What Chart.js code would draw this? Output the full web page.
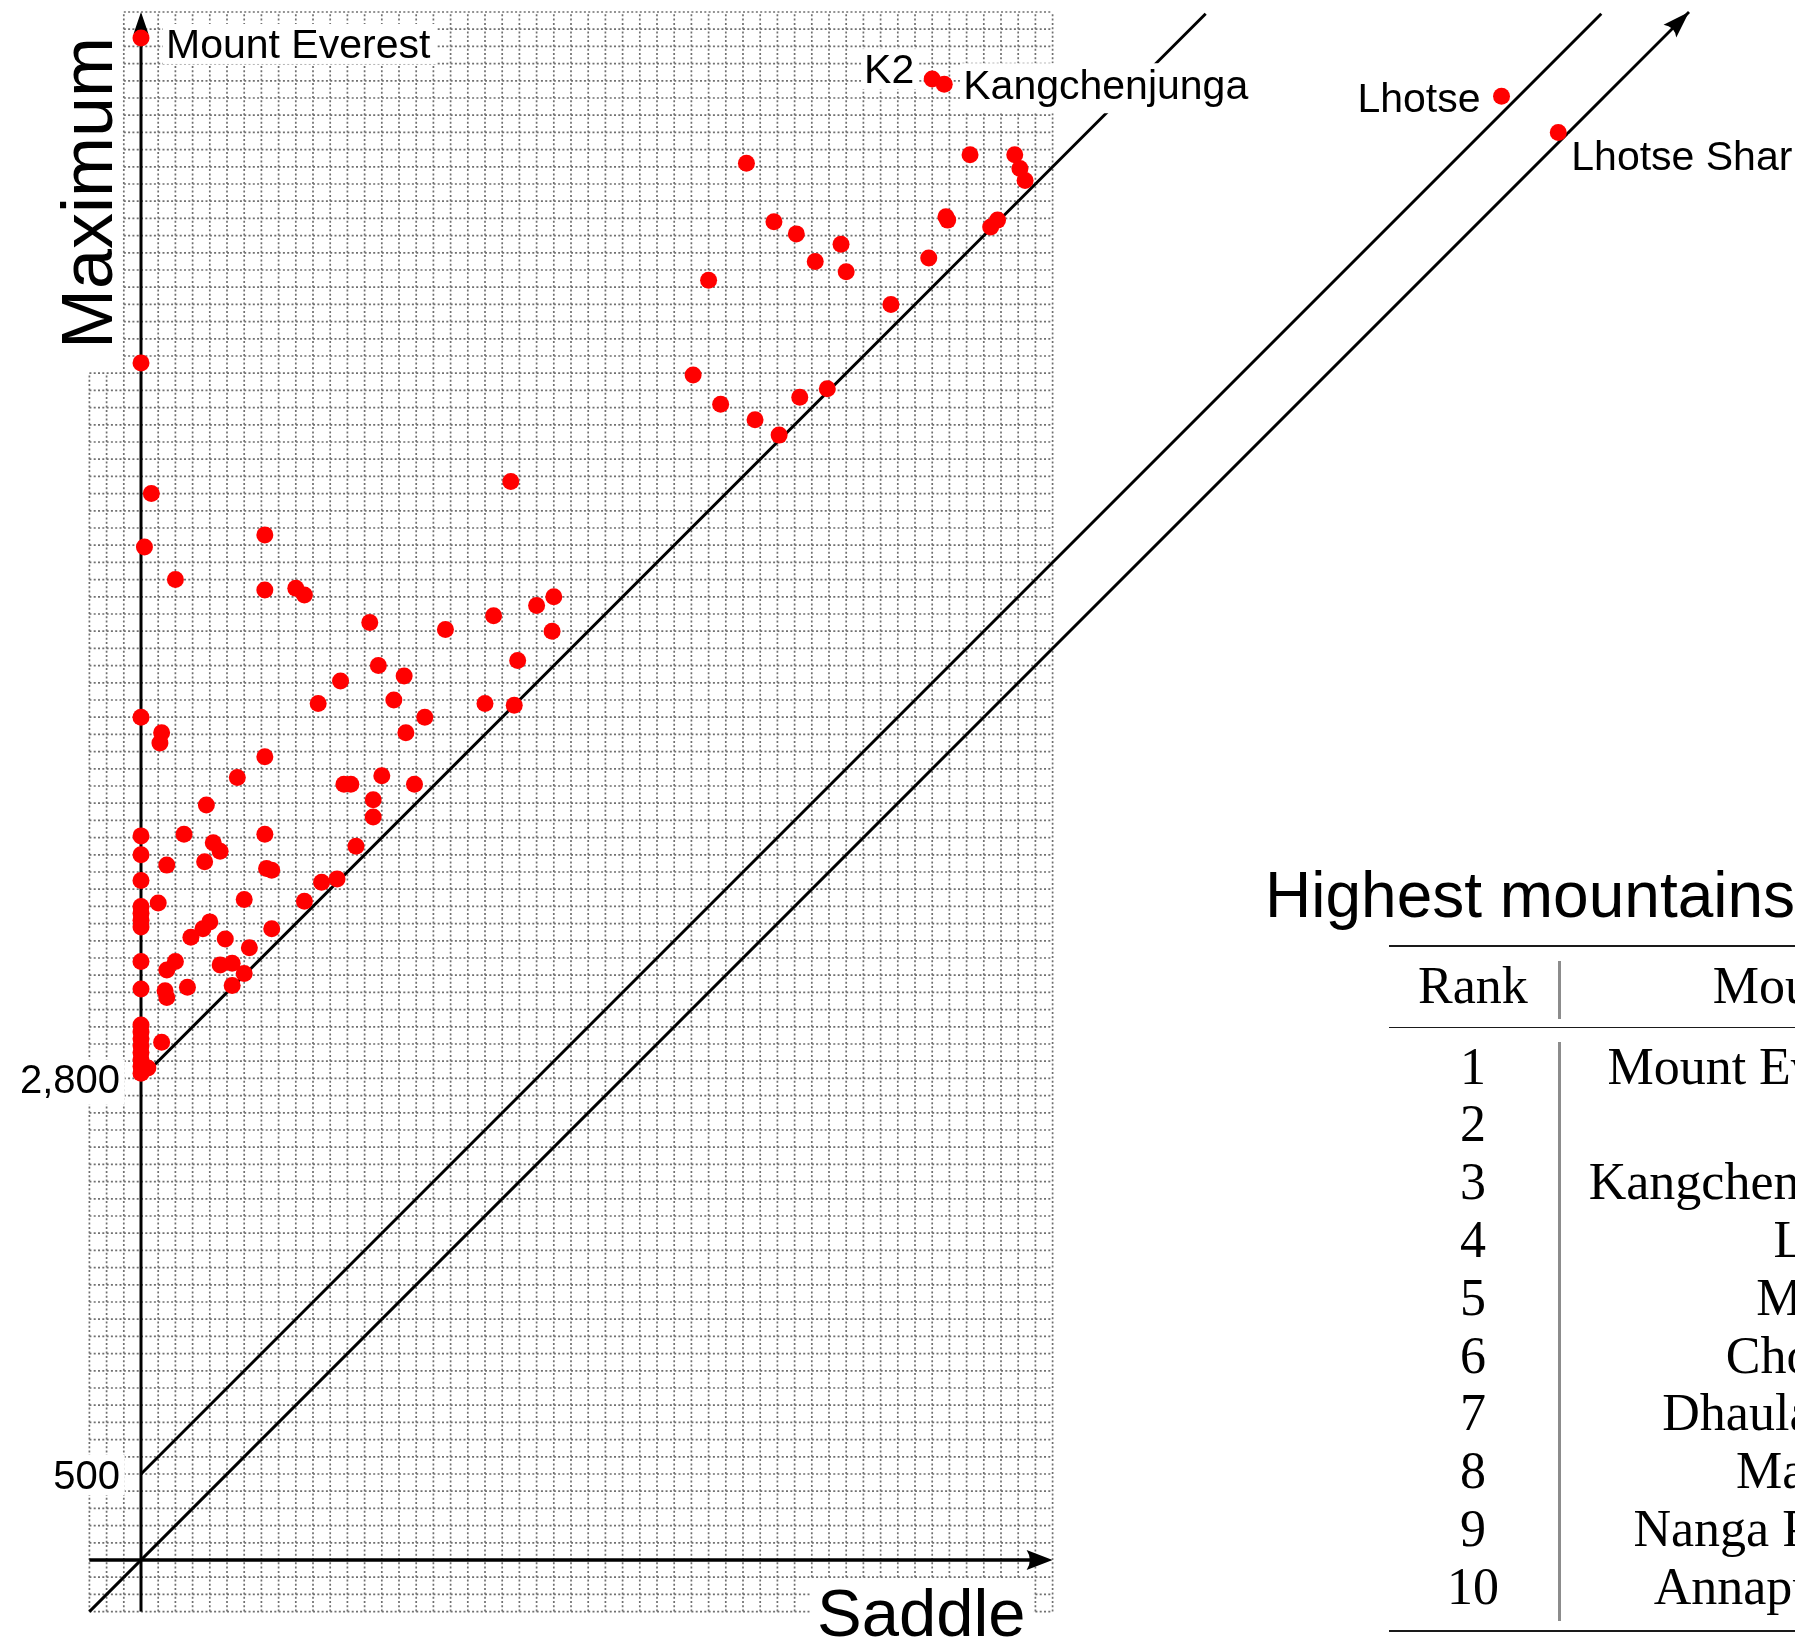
<!DOCTYPE html>
<html>
<head>
<meta charset="utf-8">
<title>Saddle vs. maximum elevation</title>
<script src="https://cdn.jsdelivr.net/npm/chart.js@4.4.1/dist/chart.umd.min.js"></script>
<style>
  html, body { margin: 0; padding: 0; background: #fff; overflow: hidden; }
  #wrap { position: relative; width: 1795px; height: 1641px; overflow: hidden; background: #fff; }
  #chart { position: absolute; left: 0; top: 0; }
  .txt { position: absolute; white-space: nowrap; color: #000; }
  .title { font-family: "Liberation Sans", Arial, sans-serif; font-size: 64px; line-height: 64px; }
  .cell { font-family: "Liberation Serif", "Times New Roman", serif; font-size: 52px; line-height: 52px; }
  .rule { position: absolute; background: #1a1a1a; }
  .vrule { position: absolute; background: #8c8c8c; width: 2.5px; }
</style>
</head>
<body>
<div id="wrap">
  <canvas id="chart" width="1795" height="1641"></canvas>
  <div id="table"></div>
</div>
<script>
// Named peaks come first in the two elevation lists below.
const peakNames = ['Mount Everest', 'K2', 'Kangchenjunga', 'Lhotse', 'Lhotse Shar'];

// Saddle (key col) elevation of each peak, metres.
const saddleHeights = [
  0, 4600, 4670, 7910, 8240,
  3520, 4820, 5080, 5110, 5140, 3680, 3810, 4070, 3920, 4100,
  4680, 4690, 4980, 4940, 4580, 3300, 4360, 3210, 3370, 3570,
  3710, 3830, 3990, 0, 60, 20, 200, 720, 720, 900,
  950, 2150, 1330, 1770, 2050, 2300, 2400, 2390, 2190, 1380,
  1530, 1160, 1030, 1470, 2000, 2170, 1650, 0, 120, 110,
  1540, 720, 560, 1400, 1590, 1180, 1220, 1350, 1350, 380,
  0, 250, 420, 460, 720, 1250, 0, 150, 370, 730,
  760, 1050, 1140, 0, 950, 100, 600, 0, 0, 0,
  0, 400, 360, 290, 760, 490, 630, 0, 200, 150,
  460, 530, 600, 530, 270, 0, 140, 150, 0, 0,
  0, 0, 0, 0, 0, 0, 120, 40
];

// Summit (maximum) elevation of each peak, metres.
const summitHeights = [
  8849, 8610, 8580, 8510, 8300,
  8120, 8170, 8170, 8090, 8020, 7780, 7710, 7650, 7550, 7490,
  7810, 7790, 7790, 7750, 7570, 7440, 7300, 6890, 6720, 6630,
  6540, 6760, 6810, 6960, 6200, 5890, 5700, 5960, 5640, 5650,
  5610, 6270, 5450, 5410, 5490, 5550, 5600, 5400, 5230, 5200,
  5140, 5110, 4980, 5000, 4980, 4970, 4900, 4900, 4810, 4750,
  4810, 4670, 4550, 4560, 4510, 4510, 4510, 4420, 4320, 4390,
  4210, 4220, 4170, 4120, 4220, 4150, 4100, 4040, 4060, 4020,
  4010, 3940, 3960, 3950, 3830, 3820, 3840, 3800, 3760, 3720,
  3680, 3710, 3670, 3620, 3670, 3610, 3560, 3480, 3480, 3430,
  3460, 3470, 3410, 3340, 3330, 3320, 3310, 3270, 3110, 3070,
  3030, 2990, 2950, 2910, 2870, 2830, 3010, 2860
];

// Prominence reference lines: summit = saddle + offset.
const prominenceOffsets = [2800, 500, 0];

// Labelled values on the vertical axis.
const yTickValues = [2800, 500];
const yTickLabels = ['2,800', '500'];

// Table of the ten highest mountains.
const tableRanks = [1, 2, 3, 4, 5, 6, 7, 8, 9, 10];
const tableNames = ['Mount Everest', 'K2', 'Kangchenjunga', 'Lhotse', 'Makalu',
                    'Cho Oyu', 'Dhaulagiri I', 'Manaslu', 'Nanga Parbat', 'Annapurna I'];

// ---------------------------------------------------------------------------

const peakPoints = saddleHeights.map((s, i) => ({ x: s, y: summitHeights[i] }));

const GRID_LO = -300, GRID_X_HI = 5300, GRID_Y_HI = 9000, LINE_TOP = 8990;

function guideData(offset) {
  if (offset === 0) return [{ x: GRID_LO, y: GRID_LO }, { x: GRID_Y_HI, y: GRID_Y_HI }];
  return [{ x: 0, y: offset }, { x: LINE_TOP - offset, y: LINE_TOP }];
}

const guideSets = prominenceOffsets.map(p => ({
  data: guideData(p),
  showLine: true,
  borderColor: '#000',
  borderWidth: 2.9,
  pointRadius: 0,
  pointHoverRadius: 0,
  fill: false
}));

function arrowHead(ctx, tx, ty, angle, len, half) {
  const c = Math.cos(angle), s = Math.sin(angle);
  const bx = tx - len * c, by = ty - len * s;
  ctx.beginPath();
  ctx.moveTo(tx, ty);
  ctx.lineTo(bx - half * s, by + half * c);
  ctx.quadraticCurveTo(tx - 0.75 * len * c, ty - 0.75 * len * s, bx + half * s, by - half * c);
  ctx.closePath();
  ctx.fill();
}

function seg(ctx, x1, y1, x2, y2) {
  ctx.beginPath();
  ctx.moveTo(x1, y1);
  ctx.lineTo(x2, y2);
  ctx.stroke();
}

function boxedText(ctx, text, x, y, align, font, pad) {
  ctx.font = font;
  ctx.textAlign = align;
  ctx.textBaseline = 'alphabetic';
  const m = ctx.measureText(text);
  const left = x - m.actualBoundingBoxLeft, right = x + m.actualBoundingBoxRight;
  const top = y - m.actualBoundingBoxAscent, bottom = y + m.actualBoundingBoxDescent;
  ctx.fillStyle = '#fff';
  ctx.fillRect(left - pad, top - pad, right - left + 2 * pad, bottom - top + 2 * pad);
  ctx.fillStyle = '#000';
  ctx.fillText(text, x, y);
}

// Where each peak name sits relative to its dot.
const labelPlacement = {
  'Mount Everest': { align: 'left',  dx: 25,  dy: 20 },
  'K2':            { align: 'right', dx: -18, dy: 4 },
  'Kangchenjunga': { align: 'left',  dx: 19,  dy: 15 },
  'Lhotse':        { align: 'right', dx: -21, dy: 16 },
  'Lhotse Shar':   { align: 'left',  dx: 13,  dy: 38 }
};

const backdrop = {
  id: 'backdrop',
  beforeDatasetsDraw(chart) {
    const ctx = chart.ctx;
    const X = v => chart.scales.x.getPixelForValue(v);
    const Y = v => chart.scales.y.getPixelForValue(v);
    ctx.save();

    // dotted grid, one line every 100 m
    ctx.strokeStyle = '#707070';
    ctx.lineWidth = 1.7;
    ctx.setLineDash([2, 2.3]);
    for (let s = GRID_LO; s <= GRID_X_HI; s += 100) {
      const top = s < -100 ? Y(6900) : Y(GRID_Y_HI);
      seg(ctx, X(s), Y(GRID_LO), X(s), top);
    }
    for (let m = GRID_LO; m <= GRID_Y_HI; m += 100) {
      const left = m > 6900 ? X(-100) : X(GRID_LO);
      seg(ctx, left, Y(m), X(GRID_X_HI), Y(m));
    }
    ctx.setLineDash([]);

    // vertical tick labels
    yTickValues.forEach((v, i) => {
      boxedText(ctx, yTickLabels[i], X(0) - 21, Y(v) + 15, 'right', '40px "Liberation Sans"', 6);
    });

    // axes with arrow heads
    ctx.strokeStyle = '#000';
    ctx.fillStyle = '#000';
    ctx.lineWidth = 3;
    seg(ctx, X(0), Y(GRID_LO), X(0), Y(GRID_Y_HI) + 14);
    arrowHead(ctx, X(0), Y(GRID_Y_HI), -Math.PI / 2, 22, 7.5);
    ctx.lineWidth = 3.6;
    seg(ctx, X(GRID_LO), Y(0), X(GRID_X_HI) - 16, Y(0));
    arrowHead(ctx, X(GRID_X_HI), Y(0), 0, 26, 10);

    // axis titles
    ctx.fillStyle = '#000';
    ctx.font = '72px "Liberation Sans"';
    ctx.textAlign = 'left';
    ctx.textBaseline = 'alphabetic';
    ctx.save();
    ctx.translate(X(0) - 29, 349);
    ctx.rotate(-Math.PI / 2);
    ctx.fillText('Maximum', 0, 0);
    ctx.restore();
    boxedText(ctx, 'Saddle', X(GRID_X_HI) - 27, Y(0) + 76, 'right', '67px "Liberation Sans"', 10);

    ctx.restore();
  },
  beforeDatasetDraw(chart, args) {
    const ctx = chart.ctx;
    const X = v => chart.scales.x.getPixelForValue(v);
    const Y = v => chart.scales.y.getPixelForValue(v);
    if (args.index === 0) {
      ctx.save();
      // arrow head on the zero-prominence line
      ctx.fillStyle = '#000';
      arrowHead(ctx, X(GRID_Y_HI), Y(GRID_Y_HI), -Math.PI / 4, 27, 9);
      // peak names on white plates
      peakNames.forEach((name, i) => {
        const p = labelPlacement[name];
        boxedText(ctx, name, X(saddleHeights[i]) + p.dx, Y(summitHeights[i]) + p.dy,
                  p.align, '41px "Liberation Sans"', 6);
      });
      ctx.restore();
    }
  }
};

const pxPerMetre = 0.172;
const originX = 141, originY = 1560;
const W = 1795, H = 1641;

new Chart(document.getElementById('chart'), {
  type: 'scatter',
  data: {
    datasets: [
      {
        data: peakPoints,
        backgroundColor: '#ff0000',
        borderWidth: 0,
        pointRadius: 8.5,
        pointHoverRadius: 8.5
      },
      ...guideSets
    ]
  },
  options: {
    responsive: false,
    animation: false,
    events: [],
    layout: { padding: 0, autoPadding: false },
    plugins: { legend: { display: false }, tooltip: { enabled: false } },
    scales: {
      x: {
        type: 'linear',
        display: false,
        min: -originX / pxPerMetre,
        max: (W - originX) / pxPerMetre
      },
      y: {
        type: 'linear',
        display: false,
        min: -(H - originY) / pxPerMetre,
        max: originY / pxPerMetre
      }
    }
  },
  plugins: [backdrop]
});

// ---- table of the highest mountains ----
const table = document.getElementById('table');
function place(el, css) { Object.assign(el.style, css); table.appendChild(el); return el; }
function text(str, cls, css) {
  const d = document.createElement('div');
  d.className = 'txt ' + cls;
  d.textContent = str;
  return place(d, css);
}
function rule(cls, css) {
  const d = document.createElement('div');
  d.className = cls;
  return place(d, css);
}

text('Highest mountains', 'title', { left: '1265px', top: '863px' });

rule('rule', { left: '1389px', top: '945px', width: '600px', height: '2px' });
rule('rule', { left: '1389px', top: '1027px', width: '600px', height: '1.4px' });
rule('rule', { left: '1389px', top: '1630px', width: '600px', height: '2px' });
rule('vrule', { left: '1558px', top: '961px', height: '58px' });
rule('vrule', { left: '1558px', top: '1042px', height: '579px' });

const SERIF_BASE = 43.5, ROW0 = 1084, ROW_STEP = 57.8;
text('Rank', 'cell', { left: '1373px', width: '200px', textAlign: 'center', top: (1003 - SERIF_BASE) + 'px' });
text('Mountain', 'cell', { left: '1515px', width: '400px', textAlign: 'right', top: (1003 - SERIF_BASE) + 'px' });
tableRanks.forEach((r, i) => {
  const top = (ROW0 + ROW_STEP * i - SERIF_BASE) + 'px';
  text(String(r), 'cell', { left: '1373px', width: '200px', textAlign: 'center', top });
  text(tableNames[i], 'cell', { left: '1515px', width: '400px', textAlign: 'right', top });
});
</script>
</body>
</html>
